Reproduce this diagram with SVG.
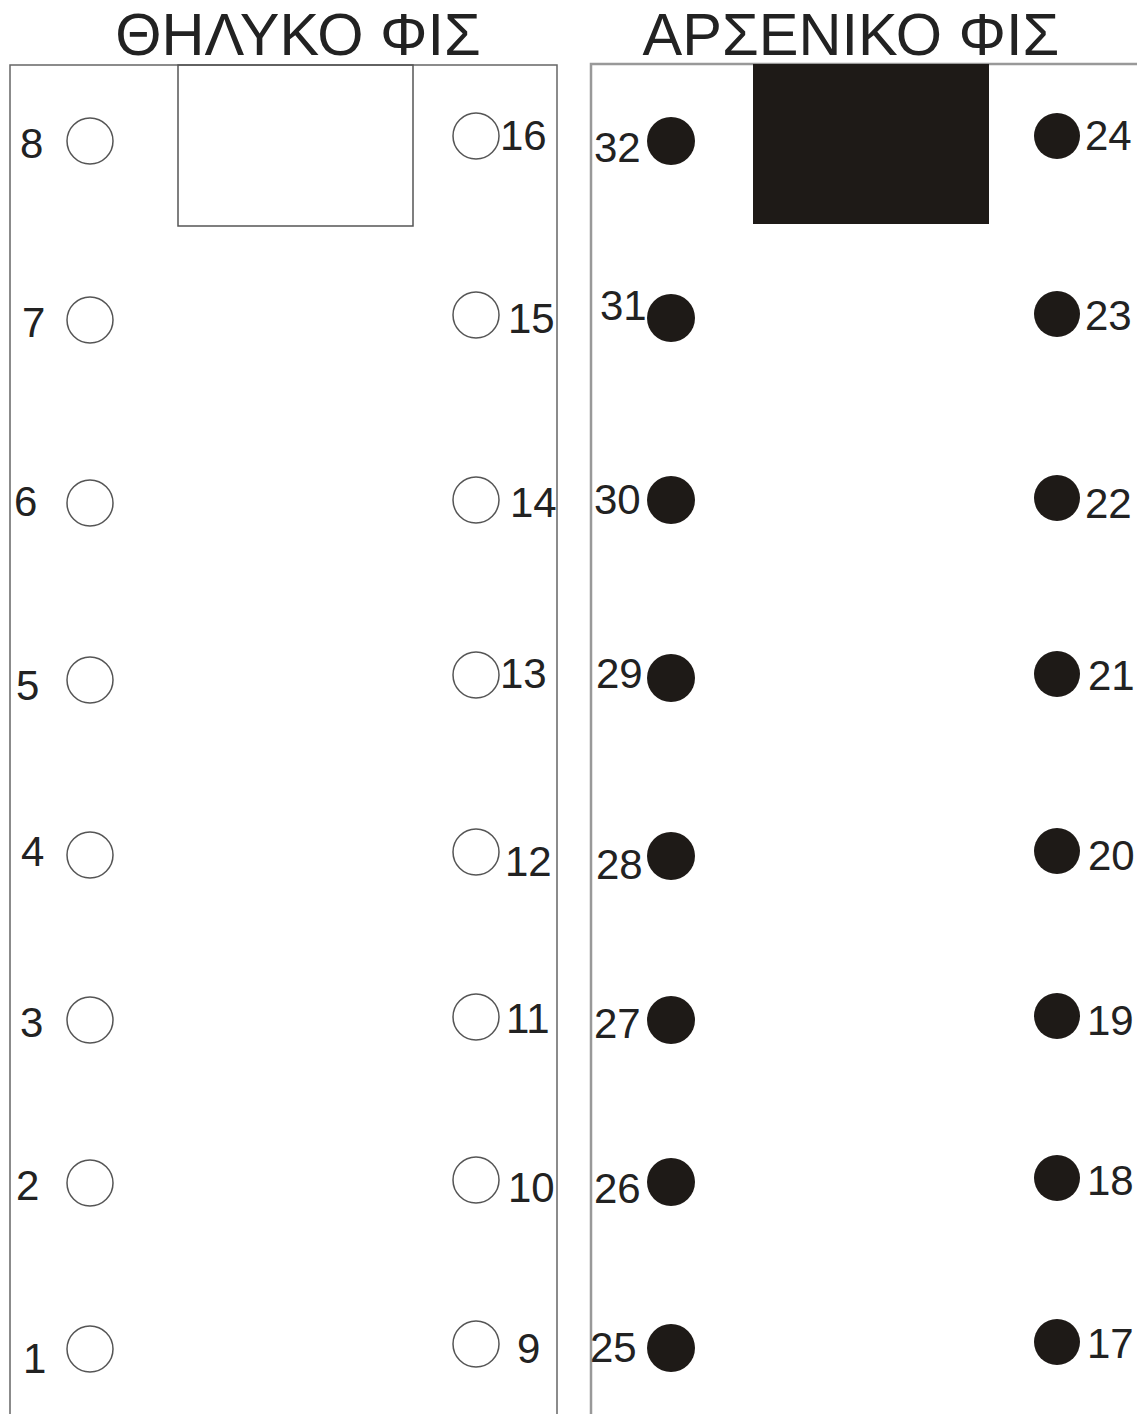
<svg xmlns="http://www.w3.org/2000/svg" width="1137" height="1414" viewBox="0 0 1137 1414">
<style>
.t{font-family:"Liberation Sans",Arial,sans-serif;fill:#222;}
.title{font-size:59.5px;}
.n{font-size:42px;}
.ho{fill:none;stroke:#555;stroke-width:1.5;}
.pin{fill:#1e1a17;}
</style>
<rect width="1137" height="1414" fill="#fff"/>
<g id="female-plug">
<text class="t title" x="298" y="55" text-anchor="middle">ΘΗΛΥΚΟ ΦΙΣ</text>
<path d="M10,1420 V65 H557 V1420" fill="none" stroke="#666" stroke-width="1.5"/>
<rect x="178" y="65" width="235" height="161" fill="none" stroke="#555" stroke-width="1.5"/>
</g>
<g id="male-plug">
<text class="t title" x="851" y="55" text-anchor="middle">ΑΡΣΕΝΙΚΟ ΦΙΣ</text>
<path d="M591,1420 V64 H1140" fill="none" stroke="#999" stroke-width="2.5"/>
<rect x="753" y="64" width="236" height="160" class="pin"/>
</g>
<g id="female-pins">
<g id="pin8"><circle class="ho" cx="90" cy="141" r="23"/><text class="t n" x="20" y="158">8</text></g>
<g id="pin7"><circle class="ho" cx="90" cy="320" r="23"/><text class="t n" x="22" y="337">7</text></g>
<g id="pin6"><circle class="ho" cx="90" cy="503" r="23"/><text class="t n" x="14" y="516">6</text></g>
<g id="pin5"><circle class="ho" cx="90" cy="680" r="23"/><text class="t n" x="16" y="700">5</text></g>
<g id="pin4"><circle class="ho" cx="90" cy="855" r="23"/><text class="t n" x="21" y="866">4</text></g>
<g id="pin3"><circle class="ho" cx="90" cy="1020" r="23"/><text class="t n" x="20" y="1037">3</text></g>
<g id="pin2"><circle class="ho" cx="90" cy="1183" r="23"/><text class="t n" x="16" y="1200">2</text></g>
<g id="pin1"><circle class="ho" cx="90" cy="1349" r="23"/><text class="t n" x="23" y="1373">1</text></g>
<g id="pin16"><circle class="ho" cx="476" cy="136" r="23"/><text class="t n" x="500" y="150">16</text></g>
<g id="pin15"><circle class="ho" cx="476" cy="315" r="23"/><text class="t n" x="508" y="333">15</text></g>
<g id="pin14"><circle class="ho" cx="476" cy="500" r="23"/><text class="t n" x="510" y="517">14</text></g>
<g id="pin13"><circle class="ho" cx="476" cy="675" r="23"/><text class="t n" x="500" y="688">13</text></g>
<g id="pin12"><circle class="ho" cx="476" cy="852" r="23"/><text class="t n" x="505" y="876">12</text></g>
<g id="pin11"><circle class="ho" cx="476" cy="1017" r="23"/><text class="t n" x="506" y="1033">11</text></g>
<g id="pin10"><circle class="ho" cx="476" cy="1180" r="23"/><text class="t n" x="508" y="1202">10</text></g>
<g id="pin9"><circle class="ho" cx="476" cy="1344" r="23"/><text class="t n" x="517" y="1363">9</text></g>
</g>
<g id="male-pins">
<g id="pin32"><circle class="pin" cx="671" cy="141" r="24"/><text class="t n" x="594" y="162">32</text></g>
<g id="pin31"><circle class="pin" cx="671" cy="318" r="24"/><text class="t n" x="600" y="320">31</text></g>
<g id="pin30"><circle class="pin" cx="671" cy="500" r="24"/><text class="t n" x="594" y="514">30</text></g>
<g id="pin29"><circle class="pin" cx="671" cy="678" r="24"/><text class="t n" x="596" y="688">29</text></g>
<g id="pin28"><circle class="pin" cx="671" cy="856" r="24"/><text class="t n" x="596" y="879">28</text></g>
<g id="pin27"><circle class="pin" cx="671" cy="1020" r="24"/><text class="t n" x="594" y="1038">27</text></g>
<g id="pin26"><circle class="pin" cx="671" cy="1182" r="24"/><text class="t n" x="594" y="1203">26</text></g>
<g id="pin25"><circle class="pin" cx="671" cy="1348" r="24"/><text class="t n" x="590" y="1362">25</text></g>
<g id="pin24"><circle class="pin" cx="1057" cy="136" r="23"/><text class="t n" x="1085" y="150">24</text></g>
<g id="pin23"><circle class="pin" cx="1057" cy="314" r="23"/><text class="t n" x="1085" y="330">23</text></g>
<g id="pin22"><circle class="pin" cx="1057" cy="498" r="23"/><text class="t n" x="1085" y="518">22</text></g>
<g id="pin21"><circle class="pin" cx="1057" cy="674" r="23"/><text class="t n" x="1088" y="690">21</text></g>
<g id="pin20"><circle class="pin" cx="1057" cy="851" r="23"/><text class="t n" x="1088" y="870">20</text></g>
<g id="pin19"><circle class="pin" cx="1057" cy="1016" r="23"/><text class="t n" x="1087" y="1035">19</text></g>
<g id="pin18"><circle class="pin" cx="1057" cy="1178" r="23"/><text class="t n" x="1087" y="1195">18</text></g>
<g id="pin17"><circle class="pin" cx="1057" cy="1342" r="23"/><text class="t n" x="1087" y="1358">17</text></g>
</g>
<g id="connectors"></g>
</svg>
